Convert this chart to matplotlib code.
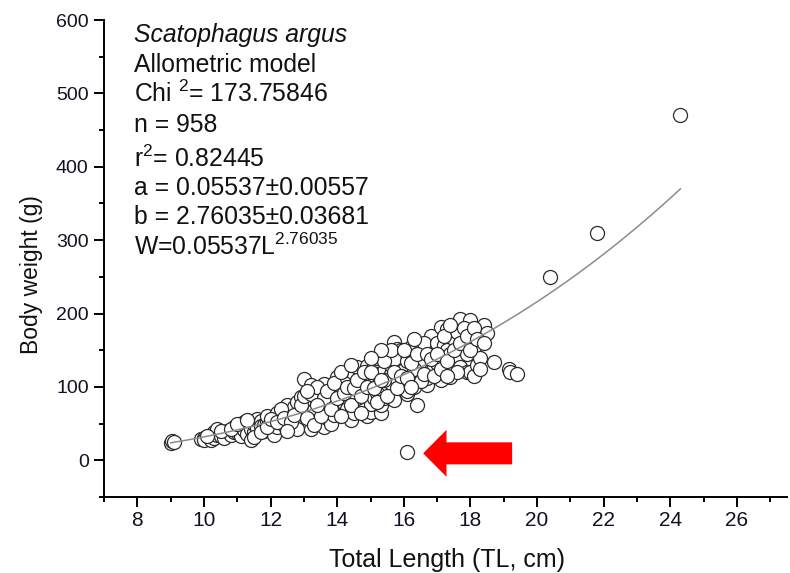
import matplotlib
matplotlib.use("Agg")
import matplotlib.pyplot as plt
import numpy as np
from matplotlib import font_manager as fm
from matplotlib.patches import FancyArrow
from matplotlib.ticker import MultipleLocator

# ---------------- data ----------------
TL_cm = [
    9.0, 9.05, 9.1, 9.9, 10.0, 10.0,
    10.2, 10.3, 10.3, 10.4, 10.4, 10.5, 10.6, 10.6, 10.7, 10.8, 10.9, 10.9,
    11.0, 11.0, 11.1, 11.1, 11.2, 11.2, 11.3, 11.3, 11.4, 11.4, 11.5, 11.5, 11.6, 11.6, 11.7, 11.7, 11.8, 11.8, 11.9, 11.9,
    12.0, 12.0, 12.1, 12.1, 12.2, 12.2, 12.3, 12.3, 12.4, 12.4, 12.5, 12.5, 12.6, 12.6, 12.6, 12.7, 12.7, 12.8, 12.8, 12.9, 12.9, 12.9, 12.8,
    13.0, 13.0, 13.0, 13.1, 13.1, 13.2, 13.2, 13.2, 13.3, 13.3, 13.4, 13.4, 13.5, 13.5, 13.6, 13.6, 13.6, 13.7, 13.7, 13.8, 13.8, 13.9, 13.9, 13.9, 13.5, 13.3,
    14.0, 14.0, 14.0, 14.1, 14.1, 14.2, 14.2, 14.3, 14.3, 14.3, 14.4, 14.4, 14.5, 14.5, 14.5, 14.6, 14.6, 14.7, 14.7, 14.8, 14.8, 14.9, 14.9, 14.9, 14.6, 14.4, 14.2,
    15.0, 15.0, 15.0, 15.0, 15.1, 15.1, 15.1, 15.2, 15.2, 15.3, 15.3, 15.3, 15.4, 15.4, 15.5, 15.5, 15.5, 15.6, 15.6, 15.6, 15.7, 15.7, 15.8, 15.8, 15.8, 15.9, 15.9, 15.9, 15.4, 15.7, 15.2,
    16.0, 16.0, 16.1, 16.1, 16.1, 16.2, 16.2, 16.3, 16.3, 16.4, 16.4, 16.4, 16.5, 16.5, 16.6, 16.7, 16.7, 16.8, 16.8, 16.8, 16.9, 16.9, 16.6, 16.3,
    17.0, 17.0, 17.1, 17.1, 17.2, 17.2, 17.3, 17.3, 17.4, 17.4, 17.5, 17.5, 17.6, 17.6, 17.7, 17.7, 17.8, 17.9, 17.9,
    18.0, 18.0, 18.0, 18.1, 18.1, 18.2, 18.3, 18.4, 18.5, 18.7, 19.15, 19.2, 19.4,
    10.1, 10.5, 10.8, 11.0, 11.3, 11.5, 11.7, 11.9,
    12.0, 12.2, 12.3, 12.4, 12.6, 12.7, 12.9, 12.5,
    13.0, 13.1, 13.2, 13.3, 13.4, 13.5, 13.6, 13.7, 13.8, 13.9, 13.4, 13.1,
    14.0, 14.1, 14.2, 14.3, 14.4, 14.5, 14.6, 14.7, 14.8, 14.9, 14.1, 14.4, 14.7,
    15.0, 15.1, 15.2, 15.3, 15.4, 15.5, 15.6, 15.7, 15.8, 15.9, 15.3, 15.0,
    16.0, 16.1, 16.2, 16.3, 16.4, 16.5, 16.6, 16.7, 16.8, 16.9, 16.2,
    17.0, 17.1, 17.2, 17.3, 17.4, 17.5, 17.6, 17.7, 17.8, 17.9, 17.3,
    18.0, 18.1, 18.2, 18.3, 18.4,
    16.1, 20.4, 21.8, 24.3,
]
BW_g = [
    24, 26, 25, 29, 31, 27,
    28, 30, 38, 35, 42, 33, 37, 30, 40, 34, 45, 38,
    38, 44, 33, 48, 41, 52, 46, 36, 27, 42, 39, 50, 44, 56, 54, 47, 48, 40, 52, 60,
    50, 42, 58, 35, 45, 64, 61, 52, 68, 48, 55, 75, 66, 45, 58, 72, 50, 57, 80, 86, 48, 66, 42,
    111, 62, 75, 86, 70, 102, 78, 42, 55, 95, 82, 65, 50, 92, 68, 104, 45, 75, 58, 50, 88, 95, 62, 78, 72, 68,
    113, 75, 95, 85, 100, 65, 78, 91, 118, 70, 106, 55, 82, 64, 115, 127, 95, 100, 72, 110, 80, 129, 88, 61, 85, 92, 105,
    113, 91, 66, 77, 105, 130, 85, 118, 140, 64, 98, 75, 85, 122, 143, 102, 95, 118, 130, 106, 161, 82, 152, 110, 125, 143, 134, 150, 110, 138, 92,
    123, 105, 136, 91, 95, 115, 155, 140, 100, 129, 109, 75, 150, 120, 135, 102, 112, 154, 170, 123, 140, 128, 160, 125,
    133, 160, 182, 109, 157, 120, 179, 150, 113, 145, 165, 125, 139, 175, 193, 127, 160, 145, 120,
    191, 170, 120, 154, 115, 130, 140, 184, 173, 134, 125, 120, 118,
    33, 40, 42, 50, 55, 32, 38, 45,
    56, 52, 70, 58, 52, 62, 75, 40,
    88, 58, 90, 48, 100, 60, 85, 95, 70, 105, 75, 95,
    85, 60, 92, 100, 75, 98, 110, 88, 120, 100, 120, 130, 65,
    120, 98, 80, 110, 135, 88, 150, 120, 98, 115, 150, 140,
    150, 112, 132, 165, 145, 108, 118, 145, 138, 115, 100,
    145, 125, 170, 135, 185, 150, 120, 160, 180, 170, 115,
    150, 180, 165, 125, 160,
    11, 250, 310, 470,
]

# allometric model W = a * L^b
a_coef = 0.05537
b_coef = 2.76035
fit_range = [9.0, 24.3]

# marked outlier (red arrow)
arrow_tail = [19.25, 9.5]
arrow_tip_x = 16.58

x_ticks = [8, 10, 12, 14, 16, 18, 20, 22, 24, 26]
y_ticks = [0, 100, 200, 300, 400, 500, 600]

info_lines = [
    "Scatophagus argus",
    "Allometric model",
    r"Chi $^{2}$= 173.75846",
    "n = 958",
    r"r$^{2}$= 0.82445",
    "a = 0.05537\u00b10.00557",
    "b = 2.76035\u00b10.03681",
    r"W=0.05537L$^{2.76035}$",
]
info_baselines_px = [42, 72, 102, 132, 167, 195, 224, 255]

# ---------------- styling ----------------
names = {f.name for f in fm.fontManager.ttflist}
BASE = "Liberation Sans"
XT_FONT = "Liberation Sans Narrow" if "Liberation Sans Narrow" in names else BASE

plt.rcParams["font.family"] = [BASE, "DejaVu Sans"]
plt.rcParams["mathtext.fontset"] = "custom"
plt.rcParams["mathtext.rm"] = BASE
plt.rcParams["mathtext.it"] = BASE + ":italic"
plt.rcParams["mathtext.bf"] = BASE + ":bold"

W_PX, H_PX = 790, 573
fig = plt.figure(figsize=(W_PX / 100, H_PX / 100), dpi=100)
ax = fig.add_axes([104 / W_PX, 1 - 497 / H_PX, (787 - 104) / W_PX, (497 - 20) / H_PX])

ax.scatter(TL_cm, BW_g, s=102, facecolors="white", edgecolors="#2b2b2b",
           linewidths=0.9, zorder=2)

xf = np.linspace(fit_range[0], fit_range[1], 300)
ax.plot(xf, a_coef * xf ** b_coef, color="#8c8c8c", lw=1.1, zorder=3)

ax.add_patch(FancyArrow(arrow_tail[0], arrow_tail[1], arrow_tip_x - arrow_tail[0], 0,
                        width=30, head_width=64, head_length=0.7,
                        length_includes_head=True, color="#ff0000", lw=0, zorder=4))

ax.set_xlim(7, 27.5)
ax.set_ylim(-50, 600)
ax.set_xticks(x_ticks)
ax.set_yticks(y_ticks)
ax.xaxis.set_minor_locator(MultipleLocator(1))
ax.yaxis.set_minor_locator(MultipleLocator(50))

for s in ("top", "right"):
    ax.spines[s].set_visible(False)
for s in ("left", "bottom"):
    ax.spines[s].set_linewidth(1.4)
    ax.spines[s].set_color("black")

ax.tick_params(which="major", length=7, width=1.4, direction="out", colors="black")
ax.tick_params(which="minor", length=3.5, width=1.4, direction="out", colors="black")
ax.tick_params(axis="x", which="major", pad=3)
ax.tick_params(axis="y", which="major", pad=4)

for lab in ax.get_xticklabels():
    lab.set_fontfamily(XT_FONT)
    lab.set_fontsize(15)
    lab.set_color("#111122")
for lab in ax.get_yticklabels():
    lab.set_fontfamily(BASE)
    lab.set_fontsize(14)
    lab.set_color("#111122")

fig.text(447 / W_PX, 1 - 567 / H_PX, "Total Length (TL, cm)", fontsize=18,
         ha="center", va="baseline", color="#111111")
fig.text(32 / W_PX, 1 - 275 / H_PX, "Body weight (g)", fontsize=16.5,
         rotation=90, ha="center", va="center", color="#111111")

for i, (txt, yb) in enumerate(zip(info_lines, info_baselines_px)):
    fig.text(134 / W_PX, 1 - yb / H_PX, txt, fontsize=17.8, ha="left", va="baseline",
             style="italic" if i == 0 else "normal", color="#111111")

fig.savefig("out.png", dpi=100)
